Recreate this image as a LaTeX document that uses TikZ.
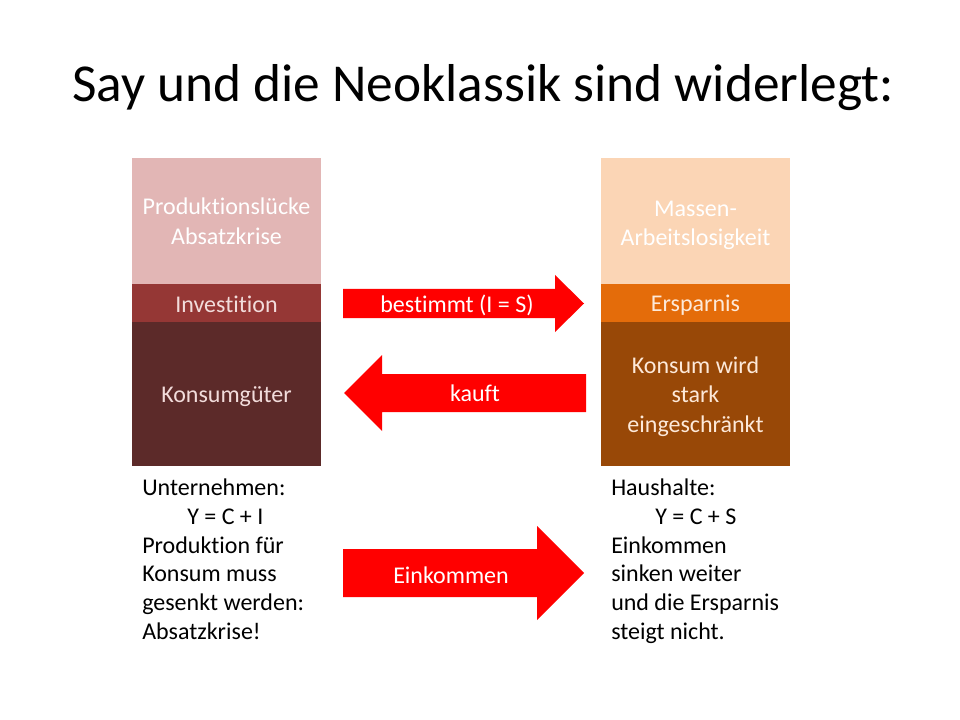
\documentclass[tikz,border=0pt]{standalone}
\usepackage{fontspec}
\setmainfont[Ligatures=NoCommon]{Carlito}
\definecolor{lpink}{HTML}{E2B6B5}
\definecolor{midred}{HTML}{953735}
\definecolor{darkred}{HTML}{5C2A29}
\definecolor{peach}{HTML}{FBD5B5}
\definecolor{orng}{HTML}{E46C0A}
\definecolor{brwn}{HTML}{984807}
\definecolor{arrred}{HTML}{FF0000}
\definecolor{ltxtA}{HTML}{F2DCDB}
\definecolor{ltxtB}{HTML}{FDE9D9}
\begin{document}
\begin{tikzpicture}[x=0.75pt,y=-0.75pt,
  blk/.style={draw=none,inner sep=0pt,outer sep=0pt,anchor=north west,minimum width=141.75pt},
  btxt/.style={anchor=base,inner sep=0pt,font=\fontsize{18}{21.6}\selectfont},
  ltxt/.style={anchor=base west,inner sep=0pt,font=\fontsize{18}{21.6}\selectfont,text=black},
  bigarrow/.style={fill=arrred,draw=none}]
\useasboundingbox (0,0) rectangle (960,720);
% title
\node[anchor=base,inner sep=0pt,font=\fontsize{40}{48}\selectfont] (title) at (483,102) {Say und die Neoklassik sind widerlegt:};
% left column
\node[blk,fill=lpink,minimum height=94.5pt] (ltop) at (132,158) {};
\node[blk,fill=midred,minimum height=28.5pt] (lmid) at (132,284) {};
\node[blk,fill=darkred,minimum height=108pt] (lbot) at (132,322) {};
% right column
\node[blk,fill=peach,minimum height=94.5pt] (rtop) at (601,158) {};
\node[blk,fill=orng,minimum height=28.5pt] (rmid) at (601,284) {};
\node[blk,fill=brwn,minimum height=108pt] (rbot) at (601,322) {};
% box texts
\node[btxt,text=white] (t1) at (226.5,215) {Produktionslücke};
\node[btxt,text=white] (t2) at (226.5,245) {Absatzkrise};
\node[btxt,text=ltxtA] (t3) at (226.5,312) {Investition};
\node[btxt,text=ltxtA] (t4) at (226.5,402) {Konsumgüter};
\node[btxt,text=white] (t5) at (695.5,217) {Massen-};
\node[btxt,text=white] (t6) at (695.5,246) {Arbeitslosigkeit};
\node[btxt,text=ltxtB] (t7) at (695.5,311) {Ersparnis};
\node[btxt,text=ltxtB] (t8) at (695.5,373) {Konsum wird};
\node[btxt,text=ltxtB] (t9) at (695.5,402) {stark};
\node[btxt,text=ltxtB] (t10) at (695.5,432) {eingeschränkt};
% arrows
\fill[bigarrow] (343,289) -- (555,289) -- (555,275) -- (584,303.5) -- (555,332) -- (555,318) -- (343,318) -- cycle;
\node[btxt,text=white] (a1) at (457,312) {bestimmt (I = S)};
\fill[bigarrow] (586,374) -- (382,374) -- (382,355) -- (344,393) -- (382,431) -- (382,412) -- (586,412) -- cycle;
\node[btxt,text=white] (a2) at (475,401) {kauft};
\fill[bigarrow] (343,549) -- (537,549) -- (537,526) -- (584,573) -- (537,620) -- (537,597) -- (343,597) -- cycle;
\node[btxt,text=white] (a3) at (451,583) {Einkommen};
% lower texts
\node[ltxt] (u1) at (142,495.5) {Unternehmen:};
\node[ltxt] (u2) at (187,524.3) {Y = C + I};
\node[ltxt] (u3) at (142,553.1) {Produktion für};
\node[ltxt] (u4) at (142,581.9) {Konsum muss};
\node[ltxt] (u5) at (142,610.7) {gesenkt werden:};
\node[ltxt] (u6) at (142,639.5) {Absatzkrise!};
\node[ltxt] (h1) at (611,495.5) {Haushalte:};
\node[ltxt] (h2) at (655,524.3) {Y = C + S};
\node[ltxt] (h3) at (611,553.1) {Einkommen};
\node[ltxt] (h4) at (611,581.9) {sinken weiter};
\node[ltxt] (h5) at (611,610.7) {und die Ersparnis};
\node[ltxt] (h6) at (611,639.5) {steigt nicht.};
\end{tikzpicture}
\end{document}
